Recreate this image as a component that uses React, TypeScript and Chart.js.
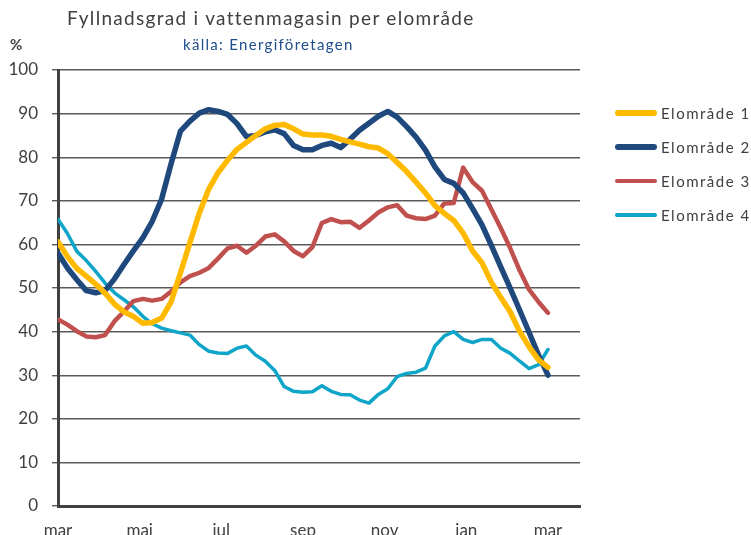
import React, { useEffect, useRef } from "react";
import { Chart, registerables } from "chart.js";

Chart.register(...registerables);

const seriesNames = ["Elområde 1", "Elområde 2", "Elområde 3", "Elområde 4"];
const seriesColors = ["#FFBA00", "#1F497D", "#C0504D", "#0EA5C9"];
const seriesWidths = [5.5, 5.5, 4.5, 3.5];

const tickLabels = ["mar", "maj", "jul", "sep", "nov", "jan", "mar"];
const weeksPerYear = 52;
const xMax = 55.4;

const elomrade1 = [
  60.6, 57.2, 54.5, 52.7, 50.9, 48.8, 46.3, 44.5, 43.5, 41.9, 42.1, 43.1, 46.8,
  53.5, 60.4, 67.2, 72.7, 76.5, 79.3, 81.8, 83.4, 85.0, 86.5, 87.3, 87.5, 86.5,
  85.3, 85.1, 85.1, 84.8, 84.1, 83.5, 83.0, 82.4, 82.1, 80.8, 78.8, 76.7, 74.3,
  71.8, 68.9, 67.1, 65.5, 62.6, 58.5, 55.8, 51.3, 47.8, 44.5, 40.0, 36.5, 33.5,
  31.8,
];
const elomrade2 = [
  58.0, 54.6, 51.9, 49.4, 48.9, 49.4, 52.1, 55.4, 58.5, 61.5, 65.3, 70.4, 78.5,
  86.0, 88.3, 90.1, 90.9, 90.5, 89.8, 87.7, 84.7, 85.0, 85.8, 86.3, 85.4, 82.7,
  81.7, 81.7, 82.7, 83.2, 82.2, 84.1, 86.2, 87.8, 89.4, 90.5, 89.2, 87.0, 84.6,
  81.6, 77.8, 74.9, 74.0, 71.8, 68.2, 64.5, 59.7, 54.8, 49.9, 44.9, 39.8, 34.6,
  30.0,
];
const elomrade3 = [
  42.8, 41.6, 40.1, 38.9, 38.7, 39.2, 42.4, 44.6, 47.0, 47.5, 47.1, 47.5, 49.2,
  51.3, 52.7, 53.5, 54.6, 56.8, 59.1, 59.7, 58.1, 59.7, 61.8, 62.3, 60.7, 58.5,
  57.3, 59.4, 64.9, 65.8, 65.1, 65.2, 63.8, 65.5, 67.3, 68.5, 69.0, 66.6, 66.0,
  65.8, 66.6, 69.4, 69.5, 77.6, 74.3, 72.3, 68.0, 63.7, 59.1, 54.0, 49.6, 46.8,
  44.3,
];
const elomrade4 = [
  65.8, 62.5, 58.4, 56.3, 53.8, 51.1, 48.9, 47.3, 45.7, 43.5, 41.8, 40.8, 40.2,
  39.7, 39.2, 37.0, 35.5, 35.1, 35.0, 36.2, 36.7, 34.6, 33.2, 31.1, 27.4, 26.3,
  26.1, 26.2, 27.6, 26.3, 25.6, 25.5, 24.3, 23.6, 25.6, 26.9, 29.7, 30.4, 30.7,
  31.6, 36.7, 39.0, 40.0, 38.2, 37.5, 38.2, 38.2, 36.2, 35.0, 33.2, 31.5, 32.4,
  35.9,
];

const allSeries = [elomrade1, elomrade2, elomrade3, elomrade4];

const FONT = "Lato, 'Open Sans', sans-serif";

export default function App() {
  const canvasRef = useRef<HTMLCanvasElement | null>(null);

  useEffect(() => {
    document.body.style.margin = "0";
    const canvas = canvasRef.current;
    if (!canvas) return;
    const chart = new Chart(canvas, {
      type: "line",
      data: {
        datasets: allSeries.map((vals, si) => ({
          label: seriesNames[si],
          data: vals.map((v, i) => ({ x: i, y: v })),
          borderColor: seriesColors[si],
          backgroundColor: seriesColors[si],
          borderWidth: seriesWidths[si],
          pointRadius: 0,
          tension: 0,
          borderJoinStyle: "round" as const,
          borderCapStyle: "round" as const,
          fill: false,
        })),
      },
      options: {
        responsive: false,
        animation: false,
        devicePixelRatio: 1,
        layout: { padding: { top: 70, right: 171, left: 0, bottom: 0 } },
        plugins: {
          legend: { display: false },
          tooltip: { enabled: false },
          title: { display: false },
        },
        scales: {
          x: {
            type: "linear",
            min: 0,
            max: xMax,
            grid: { display: false },
            border: { display: true, color: "#404040", width: 3 },
            afterBuildTicks: (scale: any) => {
              scale.ticks = tickLabels.map((_, i) => ({
                value: (i * weeksPerYear) / (tickLabels.length - 1),
              }));
            },
            afterFit: (scale: any) => {
              scale.height = 29;
            },
            ticks: {
              color: "#404040",
              font: { family: FONT, size: 17 },
              padding: 6,
              maxRotation: 0,
              autoSkip: false,
              callback: (_v: any, idx: number) => tickLabels[idx],
            },
          },
          y: {
            min: 0,
            max: 100,
            grid: {
              color: "#5a5a5a",
              lineWidth: 1.4,
              tickLength: 6,
              drawTicks: true,
            },
            border: { display: true, color: "#404040", width: 3 },
            afterFit: (scale: any) => {
              scale.width = 58;
            },
            ticks: {
              stepSize: 10,
              color: "#404040",
              font: { family: FONT, size: 17 },
              padding: 14,
            },
          },
        },
      },
    });
    return () => chart.destroy();
  }, []);

  return (
    <div
      style={{
        position: "absolute",
        left: 0,
        top: 0,
        width: 751,
        height: 535,
        overflow: "hidden",
        fontFamily: FONT,
        background: "#fff",
      }}
    >
      <canvas
        ref={canvasRef}
        width={751}
        height={535}
        style={{ position: "absolute", left: 0, top: 0, width: 751, height: 535 }}
      />
      <div
        style={{
          position: "absolute",
          left: 67,
          top: 6,
          fontSize: 19,
          color: "#404040",
          letterSpacing: 1.3,
          whiteSpace: "nowrap",
        }}
      >
        Fyllnadsgrad i vattenmagasin per elområde
      </div>
      <div
        style={{
          position: "absolute",
          left: 10,
          top: 35,
          fontSize: 15,
          fontWeight: 700,
          color: "#404040",
        }}
      >
        %
      </div>
      <div
        style={{
          position: "absolute",
          left: 183,
          top: 35,
          fontSize: 15,
          color: "#1F4E8C",
          letterSpacing: 1.3,
          whiteSpace: "nowrap",
        }}
      >
        källa: Energiföretagen
      </div>
      {seriesNames.map((name, i) => (
        <div
          key={name}
          style={{
            position: "absolute",
            left: 615,
            top: 113 + i * 34 - 10,
            height: 20,
            display: "flex",
            alignItems: "center",
            whiteSpace: "nowrap",
          }}
        >
          <div
            style={{
              width: 42,
              height: seriesWidths[i],
              borderRadius: 3,
              background: seriesColors[i],
            }}
          />
          <span
            style={{
              marginLeft: 4,
              fontSize: 15,
              color: "#404040",
              letterSpacing: 1.5,
            }}
          >
            {name}
          </span>
        </div>
      ))}
    </div>
  );
}
